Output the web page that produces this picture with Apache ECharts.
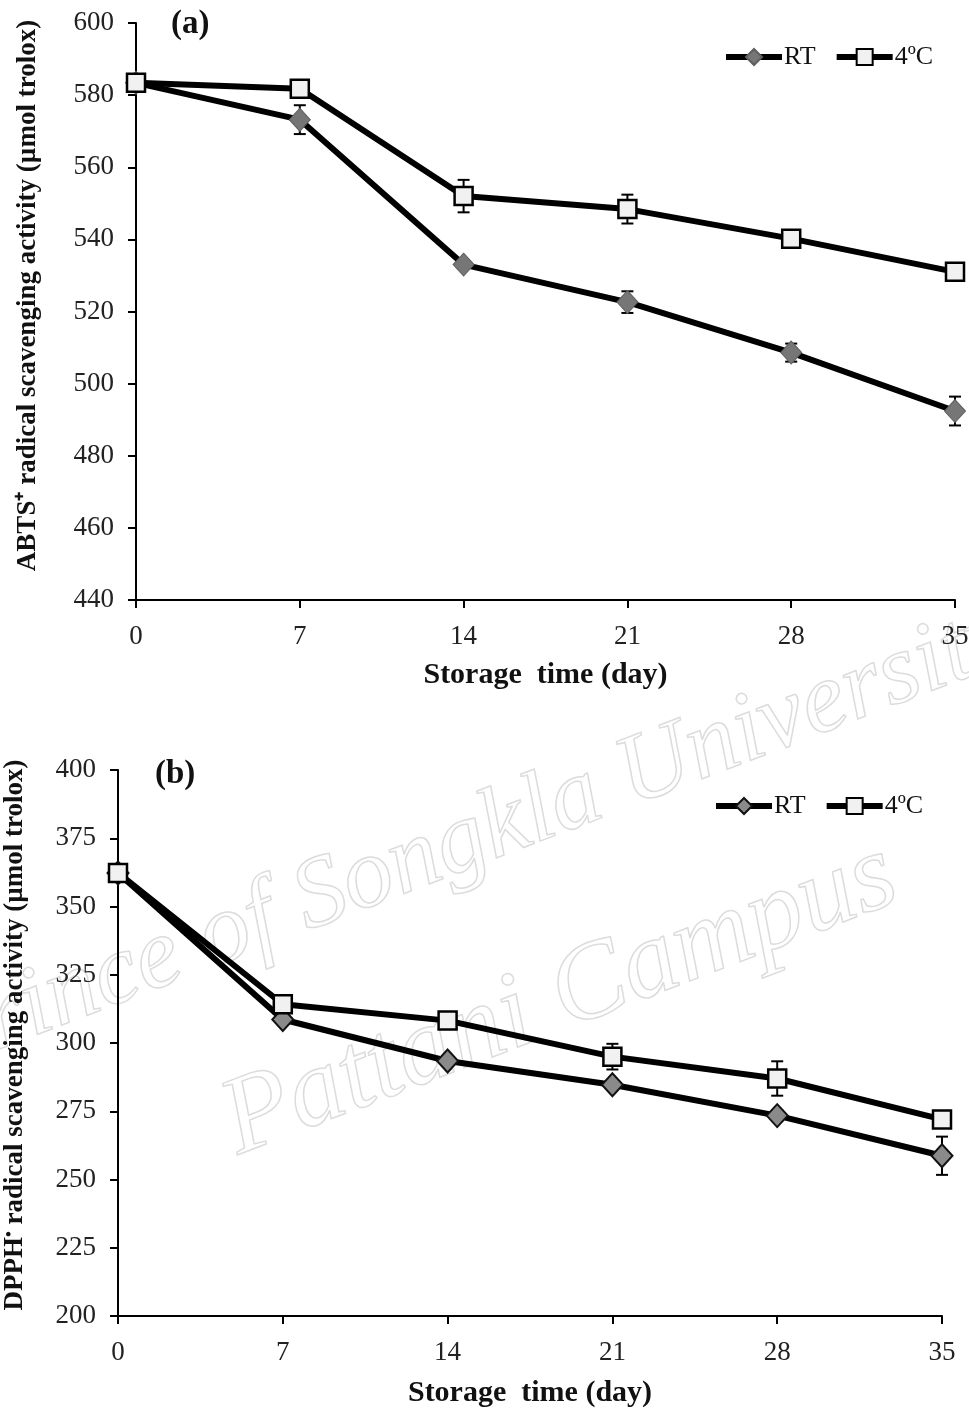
<!DOCTYPE html>
<html>
<head>
<meta charset="utf-8">
<script src="https://cdn.jsdelivr.net/npm/echarts@6/dist/echarts.min.js"></script>
<style>
  html, body { margin: 0; padding: 0; background: #fff; }
  #main { width: 969px; height: 1409px; }
</style>
</head>
<body>
<div id="main"></div>
<script>
// storage days
const days = [0, 7, 14, 21, 28, 35];

// (a) ABTS
const abtsRT = [583.4, 573.2, 533.0, 522.6, 508.6, 492.4];
const abtsRTErr = [0.8, 4.0, 1.0, 3.0, 2.5, 4.0];
const abts4C = [583.4, 581.8, 552.0, 548.4, 540.2, 531.0];
const abts4CErr = [0.8, 1.0, 4.5, 4.0, 1.0, 1.0];

// (b) DPPH
const dpphRT = [362.3, 308.6, 293.4, 284.7, 273.4, 258.7];
const dpphRTErr = [1.0, 1.5, 1.0, 1.0, 2.0, 7.0];
const dpph4C = [362.3, 314.2, 308.2, 295.0, 287.0, 272.0];
const dpph4CErr = [1.0, 1.0, 1.0, 4.7, 6.3, 1.0];

const serif = '"Liberation Serif", "Times New Roman", serif';

const chart = echarts.init(document.getElementById('main'));

function pts(vals) {
  return days.map((d, i) => [d, vals[i]]);
}
function errPts(vals, errs) {
  return days.map((d, i) => [d, vals[i], errs[i]]);
}

function errRender(params, api) {
  const x = api.value(0), y = api.value(1), e = api.value(2);
  const hi = api.coord([x, y + e]);
  const lo = api.coord([x, y - e]);
  const w = 6;
  const style = { stroke: '#000', lineWidth: 2 };
  return {
    type: 'group',
    children: [
      { type: 'line', shape: { x1: hi[0], y1: hi[1], x2: lo[0], y2: lo[1] }, style: style },
      { type: 'line', shape: { x1: hi[0] - w, y1: hi[1], x2: hi[0] + w, y2: hi[1] }, style: style },
      { type: 'line', shape: { x1: lo[0] - w, y1: lo[1], x2: lo[0] + w, y2: lo[1] }, style: style }
    ]
  };
}

function xAxis(idx) {
  return {
    type: 'value', gridIndex: idx, min: 0, max: 35, interval: 7,
    name: 'Storage  time (day)', nameLocation: 'middle', nameGap: idx === 0 ? 60 : 62,
    nameTextStyle: { fontFamily: serif, fontSize: 30, fontWeight: 'bold', color: '#111' },
    axisLine: { lineStyle: { color: '#000', width: 2 } },
    axisTick: { length: 8, lineStyle: { color: '#000', width: 2 } },
    axisLabel: { fontFamily: serif, fontSize: 27, color: '#222', margin: 23 },
    splitLine: { show: false }
  };
}

function yAxis(idx, min, max, step, name, gap, shift) {
  return {
    type: 'value', gridIndex: idx, min: min, max: max, interval: step,
    name: name, nameLocation: 'middle', nameGap: gap,
    nameTextStyle: {
      fontFamily: serif, fontSize: 27, fontWeight: 'bold', color: '#111',
      padding: [0, 0, 0, shift],
      rich: { sup: { fontFamily: serif, fontSize: 17, fontWeight: 'bold', verticalAlign: 'top', padding: [0, 0, 12, 0] } }
    },
    axisLine: { show: true, lineStyle: { color: '#000', width: 2 } },
    axisTick: { show: true, length: 8, lineStyle: { color: '#000', width: 2 } },
    axisLabel: { fontFamily: serif, fontSize: 27, color: '#222', margin: 22 },
    splitLine: { show: false }
  };
}

const diamondA = { color: '#767676', borderColor: '#5e5e5e', borderWidth: 1 };
const diamondB = { color: '#8a8a8a', borderColor: '#111', borderWidth: 2 };
const square = { color: '#f1f1f1', borderColor: '#000', borderWidth: 2.5 };

function lineSeries(name, idx, vals, sym, size, item, z) {
  return {
    name: name, type: 'line', xAxisIndex: idx, yAxisIndex: idx,
    data: pts(vals), symbol: sym, symbolSize: size, showAllSymbol: true,
    lineStyle: { color: '#000', width: 6 },
    itemStyle: item, z: z, animation: false
  };
}

function errSeries(idx, vals, errs) {
  return {
    type: 'custom', xAxisIndex: idx, yAxisIndex: idx,
    data: errPts(vals, errs), renderItem: errRender, z: 1, silent: true, animation: false
  };
}

function legend(left, top, names) {
  return {
    left: left, top: top, data: names, orient: 'horizontal',
    itemWidth: 56, itemHeight: 20, itemGap: 18,
    lineStyle: { color: '#000', width: 6 },
    formatter: function (n) { return n.replace(' (b)', ''); },
    textStyle: { fontFamily: serif, fontSize: 26, color: '#111', padding: [0, 0, 0, -3] }
  };
}

chart.setOption({
  backgroundColor: '#fff',
  animation: false,
  title: [
    { text: '(a)', left: 171, top: 8, padding: 0, textStyle: { fontFamily: serif, fontSize: 33, fontWeight: 'bold', color: '#111' } },
    { text: '(b)', left: 155, top: 758, padding: 0, textStyle: { fontFamily: serif, fontSize: 33, fontWeight: 'bold', color: '#111' } }
  ],
  legend: [
    legend(718, 39, ['RT', '4ºC']),
    legend(708, 788, ['RT (b)', '4ºC (b)'])
  ],
  grid: [
    { left: 136, top: 23, width: 819, height: 577, outerBoundsMode: 'none', containLabel: false },
    { left: 118, top: 770, width: 824, height: 546, outerBoundsMode: 'none', containLabel: false }
  ],
  xAxis: [xAxis(0), xAxis(1)],
  yAxis: [
    yAxis(0, 440, 600, 20, 'ABTS⁺ radical scavenging activity (µmol trolox)', 94, 32),
    yAxis(1, 200, 400, 25, 'DPPH{sup|•} radical scavenging activity (µmol trolox)', 88, 16)
  ],
  graphic: [
    {
      type: 'text', z: -10, silent: true,
      position: [470, 840], rotation: 0.367,
      style: { text: 'Prince of Songkla University', font: 'italic 100px "Liberation Serif"', fill: 'rgba(255,255,255,0)', stroke: '#dcdcdc', lineWidth: 1.5, align: 'center', verticalAlign: 'middle' }
    },
    {
      type: 'text', z: -10, silent: true,
      position: [560, 1000], rotation: 0.367,
      style: { text: 'Pattani Campus', font: 'italic 110px "Liberation Serif"', fill: 'rgba(255,255,255,0)', stroke: '#dcdcdc', lineWidth: 1.5, align: 'center', verticalAlign: 'middle' }
    }
  ],
  series: [
    errSeries(0, abtsRT, abtsRTErr),
    errSeries(0, abts4C, abts4CErr),
    lineSeries('RT', 0, abtsRT, 'diamond', [21, 23], diamondA, 2),
    lineSeries('4ºC', 0, abts4C, 'rect', 18, square, 3),
    errSeries(1, dpphRT, dpphRTErr),
    errSeries(1, dpph4C, dpph4CErr),
    lineSeries('RT (b)', 1, dpphRT, 'diamond', [21, 23], diamondB, 2),
    lineSeries('4ºC (b)', 1, dpph4C, 'rect', 18, square, 3)
  ]
});
</script>
</body>
</html>
